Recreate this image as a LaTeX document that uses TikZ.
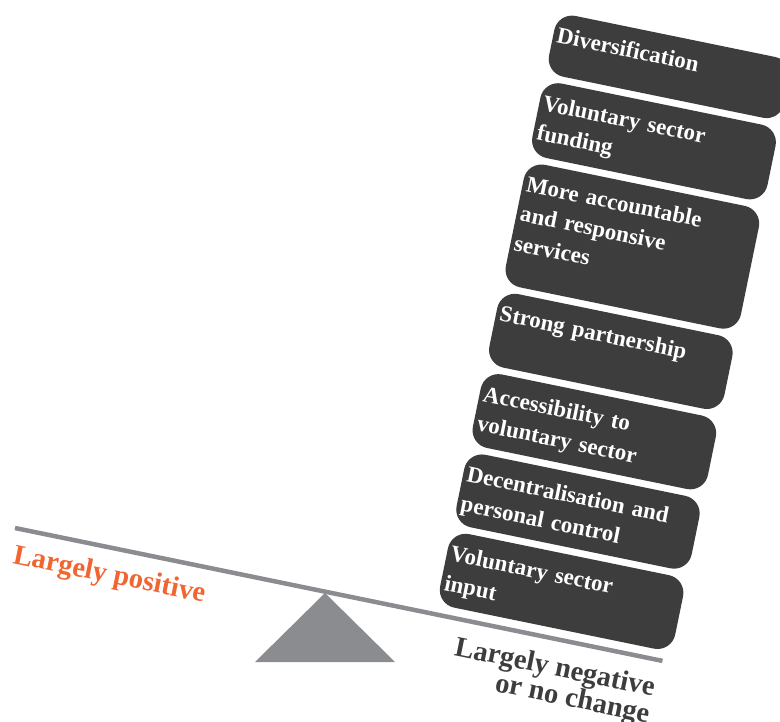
\documentclass[tikz,border=0pt]{standalone}
\usepackage{fontspec}
\setmainfont{Liberation Serif}
\definecolor{boxgray}{RGB}{61,61,61}
\definecolor{beamgray}{RGB}{139,140,144}
\definecolor{posorange}{RGB}{241,101,49}
\tikzset{
  blk/.style={fill=boxgray,text=white,rounded corners=18pt,anchor=north west,
    inner xsep=4pt,inner ysep=0pt,text width=232pt,align=left,text height=30pt,
    font=\fontsize{23}{30}\selectfont\bfseries},
  lbl/.style={inner sep=0pt,font=\fontsize{28.5}{27}\selectfont\bfseries},
}
\begin{document}
\begin{tikzpicture}[x=1pt,y=1pt]
\useasboundingbox (0,0) rectangle (780,-722);
\fill[beamgray] (255,-662) -- (325,-593) -- (395,-662) -- cycle;
\begin{scope}[shift={(15,-528)},rotate=-11.6,transform shape]
  \draw[beamgray,line width=4.5pt] (0,0) -- (661,0);
  \node[blk,text depth=32pt] (divers) at (428,614.5) {Diversification};
  \node[blk,text depth=46pt] (funding) at (428,545.5) {Voluntary sector\\funding};
  \node[blk,text depth=95pt] (account) at (428,462.5) {More accountable\\and responsive\\services};
  \node[blk,text depth=45pt] (partner) at (428,330.5) {Strong partnership};
  \node[blk,text depth=45pt] (access) at (428,248.5) {Accessibility to\\voluntary sector};
  \node[blk,text depth=44pt] (decent) at (428,166.5) {Decentralisation and\\personal control};
  \node[blk,text depth=45pt] (input) at (428,85.5) {Voluntary sector\\input};
  \node[lbl,text=posorange,anchor=base west] (positive) at (4,-35) {Largely positive};
  \node[lbl,text=boxgray,align=right,anchor=north east] (negative) at (659,-16.5) {Largely negative\\or no change};
\end{scope}
\end{tikzpicture}
\end{document}
